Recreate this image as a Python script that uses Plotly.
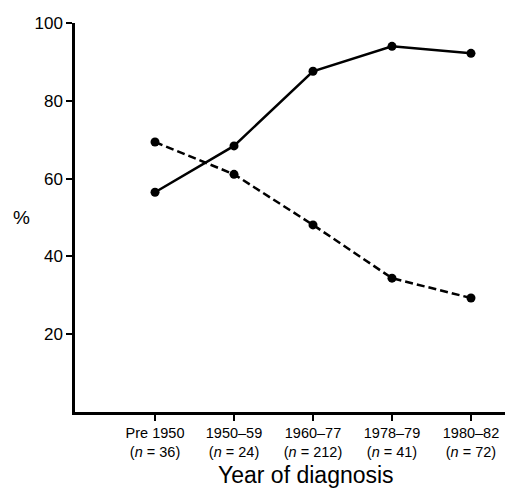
import plotly.graph_objects as go

periods = ["Pre 1950", "1950–59", "1960–77", "1978–79", "1980–82"]
n_cases = [36, 24, 212, 41, 72]
solid_pct = [56.5, 68.4, 87.6, 94.0, 92.2]
dashed_pct = [69.4, 61.1, 48.1, 34.4, 29.3]
y_ticks = [20, 40, 60, 80, 100]

xpos = list(range(len(periods)))
tick_text = [f"{p}<br>(<i>n</i> = {n})" for p, n in zip(periods, n_cases)]
FONT = "Liberation Sans, Arial"

fig = go.Figure()
fig.add_trace(go.Scatter(
    x=xpos, y=solid_pct, mode="lines+markers",
    line=dict(color="black", width=2.5),
    marker=dict(color="black", size=9),
    showlegend=False
))
fig.add_trace(go.Scatter(
    x=xpos, y=dashed_pct, mode="lines+markers",
    line=dict(color="black", width=2.5, dash="8px,4px"),
    marker=dict(color="black", size=9),
    showlegend=False
))

fig.update_xaxes(
    range=[-1.013, 4.456],
    tickvals=xpos, ticktext=tick_text,
    ticks="outside", ticklen=6, tickwidth=2, tickcolor="black",
    showline=True, linecolor="black", linewidth=2.5,
    showgrid=False, zeroline=False,
    tickfont=dict(family=FONT, size=14.5, color="black"),
)
fig.update_yaxes(
    range=[0, 100],
    tickvals=y_ticks,
    ticks="outside", ticklen=6, tickwidth=2, tickcolor="black",
    showline=True, linecolor="black", linewidth=2.5,
    showgrid=False, zeroline=False, ticklabeloverflow="allow",
    tickfont=dict(family=FONT, size=17, color="black"),
)

fig.add_annotation(
    text="%", xref="paper", yref="paper", x=-0.125, y=0.5, xanchor="center",
    yanchor="middle", showarrow=False,
    font=dict(family=FONT, size=19, color="black")
)
fig.add_annotation(
    text="Year of diagnosis", xref="paper", yref="paper", x=0.535, y=-0.2,
    xanchor="center", yanchor="bottom", showarrow=False,
    font=dict(family=FONT, size=23, color="black")
)

# the page body has an 8px margin, so the figure is a little smaller
fig.update_layout(
    width=505, height=483,
    margin=dict(l=67, r=6, t=9, b=79),
    plot_bgcolor="white", paper_bgcolor="white",
)

fig.write_html("out.html")
